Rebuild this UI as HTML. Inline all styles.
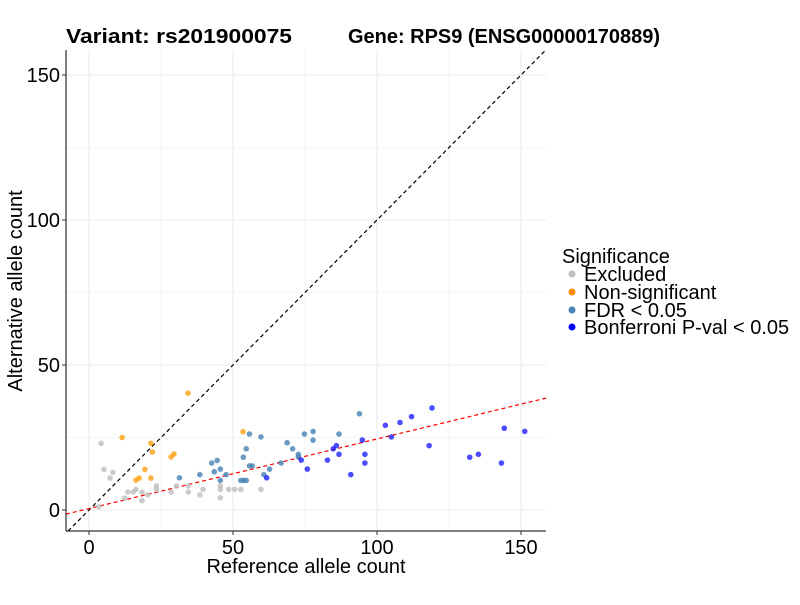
<!DOCTYPE html>
<html><head><meta charset="utf-8"><style>
html,body{margin:0;padding:0;background:#fff;}
svg text{font-family:"Liberation Sans",Arial,sans-serif;}
</style></head><body>
<svg id="chart" width="800" height="600" xmlns="http://www.w3.org/2000/svg">
<rect width="800" height="600" fill="#fff"/>
<g id="grid"></g><g id="lines"></g><g id="pts"></g><g id="axes"></g>
<text x="66" y="43" font-size="20" font-weight="bold" textLength="226" lengthAdjust="spacingAndGlyphs">Variant: rs201900075</text>
<text x="348" y="43" font-size="20" font-weight="bold" textLength="312" lengthAdjust="spacingAndGlyphs">Gene: RPS9 (ENSG00000170889)</text>
<text x="306" y="573" font-size="20" text-anchor="middle">Reference allele count</text>
<text transform="translate(22,291) rotate(-90)" font-size="20" text-anchor="middle">Alternative allele count</text>
<g>
<text x="562" y="263" font-size="20">Significance</text>
<circle cx="572" cy="274" r="3.5" fill="#bebebe"/>
<text x="584" y="281" font-size="20">Excluded</text>
<circle cx="572" cy="292" r="3.5" fill="#ff8c00"/>
<text x="584" y="299" font-size="20">Non-significant</text>
<circle cx="572" cy="310" r="3.5" fill="#4682b4"/>
<text x="584" y="317" font-size="20">FDR &lt; 0.05</text>
<circle cx="572" cy="327" r="3.5" fill="#0000ff"/>
<text x="584" y="334" font-size="20">Bonferroni P-val &lt; 0.05</text>
</g>
</svg>
<script>
const excludedX=[4.2,5.2,8.3,7.3,13.5,15.4,16.3,18.4,23.4,23.4,30.4,28.5,34.5,34.5,38.5,39.6,45.6,45.6,45.6,48.5,50.6,52.7,59.7,12.4,18.4,20.4,3.4];
const excludedY=[23,14,13,11,6.2,6.2,7.1,6.1,8.3,7.1,8.3,6.2,8.3,6.2,5.2,7.1,8.3,7.1,4.2,7.1,7.1,7.1,7.1,4.1,3.2,5.2,1.1];
const nonsigX=[34.4,11.5,21.5,22,28.5,29.5,19.4,16.3,17.4,21.5,53.5];
const nonsigY=[40.3,25,23,20,18.3,19.3,14,10.3,11,11,27];
const fdrX=[31.4,38.5,42.6,44.5,43.5,45.6,47.6,45.6,52.7,53.7,54.6,55.7,54.6,53.6,55.7,56.7,59.7,60.7,62.7,66.7,68.8,70.7,72.7,72.7,74.8,77.8,77.8,86.8,93.9];
const fdrY=[11.1,12.2,16.2,17.1,13.2,14.1,12.2,10.2,10.2,10.2,10.2,26.2,21.1,18.2,15.2,15.2,25.2,12.2,14.1,16.2,23.2,21.1,19.2,18.3,26.2,27.1,24.1,26.2,33.2];
const bonfX=[61.7,73.7,75.8,82.8,84.8,85.9,86.8,90.9,94.9,95.8,95.8,102.9,105,108,112,119.1,118.1,132.2,135.2,143.2,144.2,151.3];
const bonfY=[11.1,17.2,14.1,17.2,21.1,22.2,19.2,12.2,24.1,19.2,16.2,29.2,25.2,30.2,32.2,35.2,22.2,18.2,19.2,16.2,28.2,27.1];
const xTicks=[0,50,100,150];
const yTicks=[0,50,100,150];
const fitIntercept=0.5, fitSlope=0.24;
const NS='http://www.w3.org/2000/svg';
const L=66,R=546,T=50,B=531;
const sx=v=>89+v*2.88, sy=v=>510-v*2.9;
const xmin=(L-89)/2.88, xmax=(R-89)/2.88, ymin=(510-B)/2.9, ymax=(510-T)/2.9;
function mk(p,tag,a){const e=document.createElementNS(NS,tag);for(const k in a)e.setAttribute(k,a[k]);document.getElementById(p).appendChild(e);return e;}
const grid=[...xTicks,25,75,125];
grid.forEach(v=>{const e=mk('grid','line',{x1:sx(v),x2:sx(v),y1:T,y2:B,stroke:'#ebebeb','stroke-width':xTicks.includes(v)?1.1:0.6});


const f=mk('grid','line',{x1:L,x2:R,y1:sy(v),y2:sy(v),stroke:'#ebebeb','stroke-width':yTicks.includes(v)?1.1:0.6});

});
let lo=Math.max(xmin,ymin),hi=Math.min(xmax,ymax);
const d=mk('lines','line',{x1:sx(lo),y1:sy(lo),x2:sx(hi),y2:sy(hi),stroke:'#000','stroke-width':1.2,'stroke-dasharray':'4,3'});


const rf=mk('lines','line',{x1:sx(xmin),y1:sy(fitIntercept+fitSlope*xmin),x2:sx(xmax),y2:sy(fitIntercept+fitSlope*xmax),stroke:'#ff0000','stroke-width':1.2,'stroke-dasharray':'4,3'});


function series(xs,ys,col,op,name){xs.forEach((x,i)=>{const c=mk('pts','circle',{cx:sx(x),cy:sy(ys[i]),r:2.8,fill:col,'fill-opacity':op});

});}
series(excludedX,excludedY,'#bebebe',0.8,'point-excluded');
series(nonsigX,nonsigY,'#ff9900',0.75,'point-nonsig');
series(fdrX,fdrY,'#4682b4',0.8,'point-fdr');
series(bonfX,bonfY,'#0000ff',0.7,'point-bonferroni');
const ax=mk('axes','line',{x1:L,x2:L,y1:T,y2:B,stroke:'#000','stroke-width':1});


const bx=mk('axes','line',{x1:L,x2:R,y1:B,y2:B,stroke:'#000','stroke-width':1});


xTicks.forEach(v=>{const t=mk('axes','line',{x1:sx(v),x2:sx(v),y1:B,y2:B+4,stroke:'#333'});


const l=mk('axes','text',{x:sx(v),y:B+23,'font-size':20,'text-anchor':'middle',fill:'#000'});l.textContent=v;

});
yTicks.forEach(v=>{const t=mk('axes','line',{x1:L-4,x2:L,y1:sy(v),y2:sy(v),stroke:'#333'});


const l=mk('axes','text',{x:L-6,y:sy(v)+7,'font-size':20,'text-anchor':'end',fill:'#000'});l.textContent=v;

});
</script>
</body></html>
